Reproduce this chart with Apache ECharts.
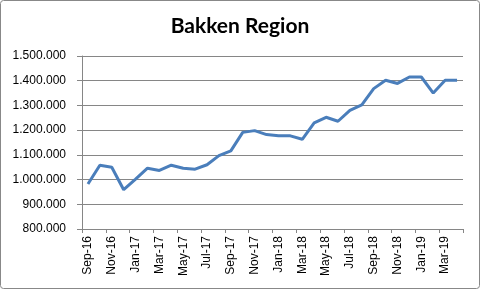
<!DOCTYPE html>
<html><head><meta charset="utf-8">
<script src="https://cdn.jsdelivr.net/npm/echarts@6/dist/echarts.min.js"></script>
<style>html,body{margin:0;padding:0;background:#fff}#c{width:480px;height:289px}</style>
</head><body><div id="c"></div>
<script>
var months = ["Sep-16","Oct-16","Nov-16","Dec-16","Jan-17","Feb-17","Mar-17","Apr-17","May-17","Jun-17","Jul-17","Aug-17","Sep-17","Oct-17","Nov-17","Dec-17","Jan-18","Feb-18","Mar-18","Apr-18","May-18","Jun-18","Jul-18","Aug-18","Sep-18","Oct-18","Nov-18","Dec-18","Jan-19","Feb-19","Mar-19","Apr-19"];
var production = [982000,1058000,1050000,959000,1002000,1046000,1037000,1058000,1046000,1042000,1060000,1097000,1116000,1191000,1198000,1182000,1177000,1177000,1163000,1229000,1252000,1236000,1280000,1302000,1368000,1402000,1389000,1415000,1415000,1350000,1402000,1402000];
var yTicks = {min: 800000, max: 1500000, interval: 100000};
var titleText = "Bakken Region";

function fmt(v){ return String(v).replace(/\B(?=(\d{3})+(?!\d))/g, "."); }

var chart = echarts.init(document.getElementById('c'), null, {renderer:'canvas'});
chart.setOption({
  animation:false,
  backgroundColor:'#fff',
  title:{text:titleText,left:'center',top:11,textStyle:{fontFamily:'Lato',fontWeight:'bold',fontSize:21,color:'#000'}},
  grid:{left:82,right:17,top:56,bottom:60},
  graphic:[{type:'rect',shape:{x:0.5,y:0.5,width:479,height:288,r:3},style:{fill:'none',stroke:'#888',lineWidth:1},silent:true}],
  xAxis:{type:'category',data:months,boundaryGap:true,
    axisLine:{lineStyle:{color:'#868686',width:1}},
    axisTick:{show:true,interval:1,length:4,lineStyle:{color:'#868686'}},
    axisLabel:{interval:1,rotate:90,fontFamily:'Liberation Sans',fontSize:12,color:'#000',margin:7}},
  yAxis:{type:'value',min:yTicks.min,max:yTicks.max,interval:yTicks.interval,
    axisLine:{show:true,lineStyle:{color:'#868686',width:1}},
    axisTick:{show:true,length:5,lineStyle:{color:'#868686'}},
    splitLine:{lineStyle:{color:'#868686',width:1}},
    axisLabel:{formatter:fmt,fontFamily:'Liberation Sans',fontSize:12,color:'#000',margin:16}},
  series:[{type:'line',data:production,symbol:'none',lineStyle:{color:'#4a7ebb',width:3},itemStyle:{color:'#4a7ebb'}}]
});
</script></body></html>
